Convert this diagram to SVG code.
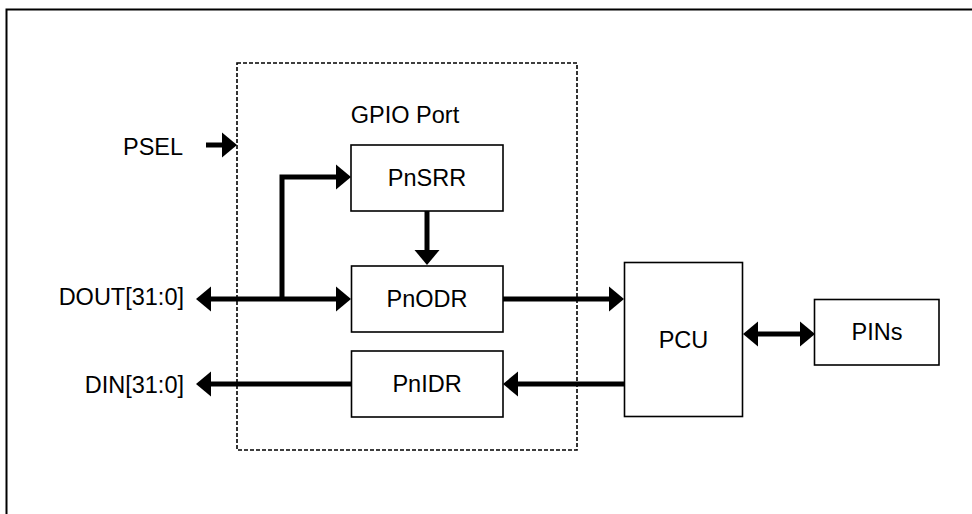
<svg xmlns="http://www.w3.org/2000/svg" width="972" height="514" viewBox="0 0 972 514">
<defs>
<style>
.t{font-family:"Liberation Sans",Arial,sans-serif;font-size:23.5px;fill:#000}
.box{fill:#fff;stroke:#000;stroke-width:1.6}
.w{fill:none;stroke:#000;stroke-width:5}
</style>
<marker id="ah" markerUnits="userSpaceOnUse" markerWidth="16" markerHeight="26" refX="0" refY="12.5" orient="auto-start-reverse" viewBox="0 0 16 25">
<path d="M0,0 L15,12.5 L0,25 z" fill="#000"/>
</marker>
</defs>
<rect x="6.5" y="9.5" width="1000" height="600" fill="#fff" stroke="#000" stroke-width="2"/>
<g id="gpio-port">
<rect x="237" y="63" width="340" height="387" fill="none" stroke="#000" stroke-width="1.6" stroke-dasharray="4,2"/>
<text class="t" x="405" y="122.5" text-anchor="middle">GPIO Port</text>
</g>
<g id="pnsrr"><rect class="box" x="351" y="145" width="152" height="66"/><text class="t" x="427" y="186" text-anchor="middle">PnSRR</text></g>
<g id="pnodr"><rect class="box" x="351.5" y="266" width="151.5" height="66"/><text class="t" x="427" y="307" text-anchor="middle">PnODR</text></g>
<g id="pnidr"><rect class="box" x="351.5" y="351" width="151.5" height="66"/><text class="t" x="427" y="392" text-anchor="middle">PnIDR</text></g>
<g id="pcu"><rect class="box" x="624.5" y="262.5" width="118" height="154"/><text class="t" x="683.5" y="348" text-anchor="middle">PCU</text></g>
<g id="pins"><rect class="box" x="814.5" y="299.5" width="124.5" height="65.5"/><text class="t" x="877" y="340" text-anchor="middle">PINs</text></g>
<g id="psel"><text class="t" x="123" y="155">PSEL</text></g>
<g id="dout"><text class="t" x="184" y="305" text-anchor="end">DOUT[31:0]</text></g>
<g id="din"><text class="t" x="184" y="393" text-anchor="end">DIN[31:0]</text></g>
<g id="connectors">
<path class="w" d="M206,145 H222" marker-end="url(#ah)"/>
<path class="w" d="M211,299 H336" marker-start="url(#ah)" marker-end="url(#ah)"/>
<path class="w" d="M282,299 V177 H336" marker-end="url(#ah)"/>
<path class="w" d="M427,211 V250" marker-end="url(#ah)"/>
<path class="w" d="M503,299 H609" marker-end="url(#ah)"/>
<path class="w" d="M624,384 H518" marker-end="url(#ah)"/>
<path class="w" d="M351,384 H211" marker-end="url(#ah)"/>
<path class="w" d="M758,334 H800" marker-start="url(#ah)" marker-end="url(#ah)"/>
</g>
</svg>
